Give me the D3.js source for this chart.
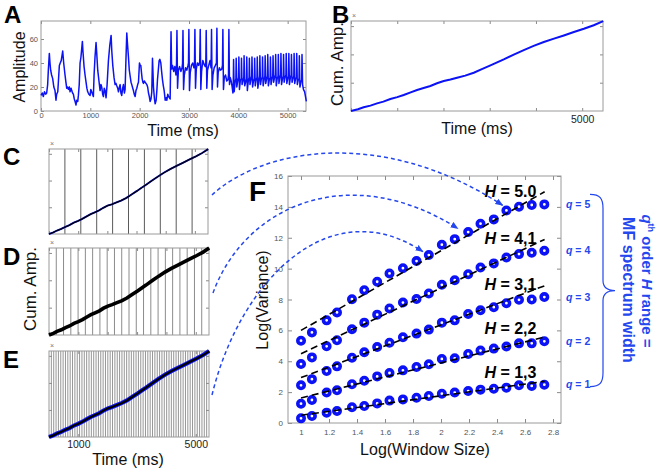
<!DOCTYPE html>
<html>
<head>
<meta charset="utf-8">
<script src="https://cdn.jsdelivr.net/npm/d3@7"></script>
<style>
body { margin: 0; background: #fff; }
svg { display: block; font-family: "Liberation Sans", Arial, sans-serif; }
</style>
</head>
<body>
<svg id="fig" width="660" height="471"></svg>
<script>
// panel A: raw amplitude trace [time ms, amplitude]
var signal = [
	[0,13],[25,15],[47,12],[70,16],[95,14],[115,15],[135,22],[150,35],[169,48],[182,40],[196,34],[215,30],[237,27],[260,20],[284,17],[304,9],[318,14],[340,16],[352,24],[372,38],[390,40],[410,42],[440,50],[460,40],[487,30],[505,24],[521,19],[540,20],[555,18],[575,20],[589,16],[610,19],[622,17],[640,15],[656,14],[675,10],[690,8],[710,5],[724,9],[745,8],[758,13],[775,22],[792,40],[810,45],[839,58],[850,50],[873,37],[893,30],[913,24],[930,19],[947,16],[970,14],[995,13],[1010,18],[1028,16],[1045,14],[1062,12],[1076,30],[1095,45],[1116,57],[1130,48],[1150,34],[1175,25],[1198,17],[1215,22],[1231,20],[1250,14],[1265,12],[1282,19],[1299,17],[1319,11],[1340,22],[1367,42],[1395,55],[1421,63],[1435,50],[1455,38],[1480,28],[1502,22],[1520,23],[1536,21],[1555,19],[1570,16],[1590,20],[1604,22],[1620,15],[1637,13],[1655,19],[1671,22],[1690,15],[1705,18],[1720,40],[1739,65],[1755,55],[1773,45],[1790,34],[1807,29],[1825,24],[1840,22],[1860,19],[1874,17],[1890,14],[1908,12],[1925,17],[1942,19],[1960,22],[1976,24],[1996,40],[2010,38],[2023,38],[2037,32],[2050,27],[2065,24],[2077,23],[2095,25],[2111,24],[2128,23],[2145,22],[2162,20],[2179,15],[2196,12],[2212,8],[2230,10],[2246,16],[2260,44],[2280,20],[2300,10],[2314,6],[2334,9],[2350,18],[2361,26],[2380,35],[2395,42],[2410,43],[2429,40],[2445,33],[2463,26],[2480,21],[2497,17],[2510,12],[2517,9],[2535,11],[2551,9],[2570,14],[2585,12],[2605,11],[2618,10],
	[2628,40],[2636,66],[2648,35],[2665,38],[2690,33],[2712,37],[2735,30],[2748,40],[2756,67],[2768,19],[2785,34],[2810,37],[2835,33],[2860,36],[2870,40],[2878,67],[2890,18],[2905,30],[2930,36],[2955,34],[2980,38],[2990,40],[2998,68],[3010,17],[3025,32],[3050,38],[3075,40],[3100,36],[3112,40],[3120,68],[3132,19],[3148,35],[3170,40],[3195,38],[3218,41],[3228,68],[3240,18],[3255,33],[3280,42],[3305,39],[3330,37],[3341,40],[3349,67],[3361,19],[3375,34],[3400,38],[3425,42],[3448,36],[3457,68],[3469,18],[3485,30],[3510,36],[3535,38],[3556,40],[3566,69],[3578,20],[3592,32],[3615,36],[3640,34],[3665,35],[3679,38],[3687,68],[3699,18],[3715,28],[3740,30],[3765,25],[3790,26],[3801,30],[3809,68],[3821,22],[3835,28],[3855,25],[3875,20],[3890,15],
	[3898,24],[3904,43],[3916,16],[3935,24],[3951,27],[3957,44],[3969,20],[3988,25],[4005,28],[4011,45],[4023,18],[4042,26],[4058,27],[4064,44],[4076,22],[4095,25],[4111,28],[4117,46],[4129,21],[4148,24],[4165,27],[4171,45],[4183,17],[4202,25],[4218,28],[4224,44],[4236,22],[4255,26],[4271,29],[4277,45],[4289,20],[4308,25],[4325,27],[4331,44],[4343,21],[4362,26],[4378,28],[4384,45],[4396,19],[4415,25],[4431,29],[4437,46],[4449,22],[4468,27],[4485,28],[4491,45],[4503,21],[4522,26],[4538,29],[4544,46],[4556,23],[4575,27],[4591,29],[4597,47],[4609,21],[4628,26],[4645,28],[4651,45],[4663,22],[4682,27],[4698,29],[4704,46],[4716,24],[4735,28],[4751,30],[4757,47],[4769,21],[4788,27],[4805,29],[4811,47],[4823,23],[4842,28],[4858,30],[4864,48],[4876,22],[4895,27],[4911,29],[4917,47],[4929,24],[4948,28],[4965,30],[4971,48],[4983,23],[5002,27],[5018,29],[5024,48],[5036,22],[5055,28],[5071,30],[5077,47],[5089,24],[5108,27],[5125,29],[5131,48],[5143,23],[5162,27],[5178,28],[5184,48],[5196,22],[5215,26],[5231,27],[5237,46],[5249,20],[5268,24],[5285,26],[5291,47],[5303,22],[5320,18],[5345,16],[5379,8]
];

// panels B-E: cumulative amplitude (x10^4)
var cumTime = [0, 150, 274, 420, 563, 700, 851, 1000, 1140, 1290, 1429, 1570, 1717, 1860, 2006, 2150, 2294, 2470, 2655, 2830, 3016, 3160, 3304, 3520, 3737, 3950, 4170, 4390, 4603, 4820, 5036, 5250, 5455];
var cumValue = [0, 0.30, 0.65, 0.95, 1.35, 1.65, 2.12, 2.45, 2.82, 3.30, 3.71, 4.05, 4.41, 4.90, 5.29, 5.55, 5.88, 6.25, 6.76, 7.40, 8.06, 8.60, 9.12, 9.95, 10.76, 11.50, 12.18, 12.78, 13.35, 13.95, 14.53, 15.15, 15.88];
var windowCounts = [10, 22, 68];

// panel F: log variance per q order
var logWindow = [1.0, 1.078, 1.183, 1.257, 1.364, 1.452, 1.544, 1.632, 1.728, 1.825, 1.913, 2.006, 2.098, 2.194, 2.282, 2.377, 2.467, 2.557, 2.648, 2.738];
var q1 = [0.30, 0.45, 0.67, 0.78, 1.02, 1.10, 1.27, 1.45, 1.53, 1.64, 1.75, 1.90, 1.97, 2.07, 2.16, 2.22, 2.29, 2.44, 2.40, 2.48];
var q2 = [1.25, 1.49, 1.97, 2.12, 2.51, 2.74, 3.02, 3.24, 3.41, 3.63, 3.80, 4.15, 4.19, 4.47, 4.69, 4.82, 4.95, 5.16, 5.16, 5.29];
var q3 = [2.44, 2.84, 3.37, 3.67, 4.23, 4.58, 4.92, 5.20, 5.55, 5.79, 6.05, 6.50, 6.65, 7.06, 7.30, 7.50, 7.76, 7.98, 8.00, 8.16];
var q4 = [3.82, 4.25, 4.97, 5.36, 6.07, 6.50, 7.02, 7.42, 7.80, 8.03, 8.39, 8.95, 9.25, 9.64, 10.07, 10.34, 10.72, 10.94, 11.03, 11.16];
var q5 = [5.33, 5.87, 6.65, 7.16, 8.02, 8.60, 9.15, 9.69, 10.03, 10.49, 10.88, 11.55, 11.91, 12.37, 12.91, 13.19, 13.77, 14.01, 14.12, 14.16];
var fitX = [1, 2.74];
var fitStart = [0.5, 1.62, 2.94, 4.49, 6.0];
var fitEnd = [2.7, 5.57, 8.89, 11.89, 14.98];
var hLabels = ['1,3', '2,2', '3,1', '4,1', '5.0'];
var qNames = ['1', '2', '3', '4', '5'];

var BLUE = '#0b12f5';
var ANNO = '#2447ee';
var svg = d3.select('#fig');

function frame(x, y, o) {
	var g = svg.append('g');
	var x0 = x.range()[0], x1 = x.range()[1];
	var y0 = y.range()[0], y1 = y.range()[1];
	var tl = o.tick || 3;
	g.append('g').attr('transform', 'translate(0,' + y0 + ')')
		.call(d3.axisBottom(x).tickValues(o.xTicks).tickSize(-tl).tickPadding(o.xPad || 4).tickFormat(o.xFmt || function () { return ''; }));
	g.append('g').attr('transform', 'translate(0,' + y1 + ')')
		.call(d3.axisTop(x).tickValues(o.xTicks).tickSize(-tl).tickFormat(''));
	g.append('g').attr('transform', 'translate(' + x0 + ',0)')
		.call(d3.axisLeft(y).tickValues(o.yTicks).tickSize(-tl).tickPadding(o.yPad || 4).tickFormat(o.yFmt || function () { return ''; }));
	g.append('g').attr('transform', 'translate(' + x1 + ',0)')
		.call(d3.axisRight(y).tickValues(o.yTicks).tickSize(-tl).tickFormat(''));
	g.selectAll('.domain').remove();
	g.selectAll('.tick line').attr('stroke', '#8a8a8a');
	g.selectAll('text').attr('font-family', null).attr('font-size', o.fs || 7.5).attr('fill', o.fc || '#555');
	g.append('rect').attr('x', x0).attr('y', y1).attr('width', x1 - x0).attr('height', y0 - y1)
		.attr('fill', 'none').attr('stroke', '#9a9a9a').attr('stroke-width', 1);
	return g;
}

function label(txt, x, y, size, rot, anchor) {
	return svg.append('text').attr('transform', 'translate(' + x + ',' + y + ')' + (rot ? ' rotate(' + rot + ')' : ''))
		.attr('text-anchor', anchor || 'middle').attr('font-size', size).attr('fill', '#111').text(txt);
}

function panelLetter(txt, x, y, size) {
	svg.append('text').attr('x', x).attr('y', y).attr('font-size', size || 24)
		.attr('font-weight', 'bold').attr('fill', '#000').text(txt);
}

// ---------- A ----------
var xA = d3.scaleLinear().domain([0, 5372]).range([41, 306]);
var yA = d3.scaleLinear().domain([0, 75]).range([111, 21]);
frame(xA, yA, { xTicks: d3.range(0, 5001, 1000), yTicks: [0, 20, 40, 60], xFmt: d3.format('d'), yFmt: d3.format('d'), xPad: 2, yPad: 3 });
svg.append('path').datum(signal)
	.attr('d', d3.line().x(function (d) { return xA(d[0]); }).y(function (d) { return yA(d[1]); }))
	.attr('fill', 'none').attr('stroke', BLUE).attr('stroke-width', 1.5).attr('stroke-linejoin', 'round');
label('Amplitude', 25, 67, 16, -90);
label('Time (ms)', 183, 136, 16);
panelLetter('A', 4, 23);

// ---------- B-E cumulative ----------
var cum = cumTime.map(function (t, i) { return [t, cumValue[i]]; });
var yCumTicks = [5, 10, 15];

var xB = d3.scaleLinear().domain([0, 5450]).range([351, 603]);
var yB = d3.scaleLinear().domain([0, 15.9]).range([111, 21]);
frame(xB, yB, { xTicks: d3.range(0, 5001, 1000), yTicks: yCumTicks, xFmt: function (d) { return d === 5000 ? '5000' : ''; }, fs: 10.5, fc: '#222', xPad: 5 });
svg.append('path').datum(cum)
	.attr('d', d3.line().x(function (d) { return xB(d[0]); }).y(function (d) { return yB(d[1]); }))
	.attr('fill', 'none').attr('stroke', BLUE).attr('stroke-width', 2);
svg.append('text').attr('x', xB.range()[0] + 1).attr('y', 18).attr('font-size', 7).attr('fill', '#777').text('×');
label('Cum. Amp.', 343, 64, 17, -90);
label('Time (ms)', 477, 134, 16);
panelLetter('B', 332, 23);

var boxes = [
	{ name: 'C', top: 149, bottom: 234, x0: 49, x1: 208, grid: '#5a5a5a', under: 1.9, over: 1.3, letterY: 165 },
	{ name: 'D', top: 248, bottom: 335, x0: 49, x1: 209, grid: '#8c8c8c', under: 0, over: 3.6, letterY: 265 },
	{ name: 'E', top: 351, bottom: 437, x0: 49, x1: 209, grid: '#8a8a8a', under: 4.2, over: 2.2, letterY: 368 }
];

boxes.forEach(function (b, k) {
	var x = d3.scaleLinear().domain([0, 5450]).range([b.x0, b.x1]);
	var y = d3.scaleLinear().domain([0, 15.9]).range([b.bottom, b.top]);
	var n = windowCounts[k];
	var edges = d3.range(1, n).map(function (i) { return i * 5450 / n; });
	svg.append('g').selectAll('line').data(edges).join('line')
		.attr('x1', function (d) { return x(d); }).attr('x2', function (d) { return x(d); })
		.attr('y1', b.top).attr('y2', b.bottom)
		.attr('stroke', b.grid).attr('stroke-width', k === 2 ? 0.9 : 1);
	var opts = { xTicks: d3.range(0, 5001, 1000), yTicks: yCumTicks };
	if (b.name === 'E') {
		opts.xTicks = [1000, 5000];
		opts.xFmt = d3.format('d');
		opts.fs = 10.5;
		opts.fc = '#222';
		opts.xPad = 4;
	}
	frame(x, y, opts);
	var line = d3.line().x(function (d) { return x(d[0]); }).y(function (d) { return y(d[1]); });
	if (b.under > 0) {
		svg.append('path').datum(cum).attr('d', line).attr('fill', 'none').attr('stroke', BLUE).attr('stroke-width', b.under);
	}
	svg.append('path').datum(cum).attr('d', line).attr('fill', 'none').attr('stroke', '#000').attr('stroke-width', b.over);
	svg.append('text').attr('x', b.x0 + 1).attr('y', b.top - 3).attr('font-size', 7).attr('fill', '#777').text('×');
	panelLetter(b.name, 3, b.letterY);
});
label('Cum. Amp.', 36, 289, 17, -90);
label('Time (ms)', 128, 465, 16);

// ---------- F ----------
var xF = d3.scaleLinear().domain([0.907, 2.857]).range([288, 561]);
var yF = d3.scaleLinear().domain([0, 16]).range([423, 176]);
frame(xF, yF, {
	xTicks: d3.range(1, 2.81, 0.2), yTicks: d3.range(0, 17, 2), tick: 4,
	xFmt: function (d) { return String(+d.toFixed(1)); }, yFmt: d3.format('d'), fs: 8, fc: '#555', xPad: 6, yPad: 5
});

var series = [q1, q2, q3, q4, q5];
series.forEach(function (s) {
	svg.append('g').selectAll('circle').data(s).join('circle')
		.attr('cx', function (d, i) { return xF(logWindow[i]); })
		.attr('cy', function (d) { return yF(d); })
		.attr('r', 3.2).attr('fill', '#fff').attr('stroke', BLUE).attr('stroke-width', 3.6);
});
series.forEach(function (s, k) {
	svg.append('line')
		.attr('x1', xF(fitX[0])).attr('y1', yF(fitStart[k]))
		.attr('x2', xF(fitX[1])).attr('y2', yF(fitEnd[k]))
		.attr('stroke', '#000').attr('stroke-width', 1.6).attr('stroke-dasharray', '7,4');
	var last = s[s.length - 1];
	var h = svg.append('text').attr('x', xF(2.31)).attr('y', yF(last) - 7)
		.attr('font-size', 16).attr('font-weight', 'bold').attr('fill', '#000');
	h.append('tspan').attr('font-style', 'italic').text('H');
	h.append('tspan').text(' = ' + hLabels[k]);
	var q = svg.append('text').attr('x', xF.range()[1] + 5).attr('y', yF(last) + 3.5)
		.attr('font-size', 10.5).attr('font-weight', 'bold').attr('fill', ANNO);
	q.append('tspan').attr('font-style', 'italic').text('q');
	q.append('tspan').text(' = ' + qNames[k]);
});
label('Log(Variance)', 268, 300, 16, -90);
label('Log(Window Size)', 425, 455, 16);
panelLetter('F', 249, 201, 28);

// brace spanning q = 1..5
var bTop = yF(q5[q5.length - 1]) - 10, bBot = yF(q1[q1.length - 1]) + 2, bMid = (bTop + bBot) / 2;
var bx = 590;
svg.append('path')
	.attr('d', 'M' + bx + ',' + bTop + ' C' + (bx + 10) + ',' + bTop + ' ' + (bx + 13) + ',' + (bTop + 4) + ' ' + (bx + 13) + ',' + (bTop + 14) +
		' L' + (bx + 13) + ',' + (bMid - 10) + ' C' + (bx + 13) + ',' + (bMid - 3) + ' ' + (bx + 18) + ',' + bMid + ' ' + (bx + 25) + ',' + bMid +
		' C' + (bx + 18) + ',' + bMid + ' ' + (bx + 13) + ',' + (bMid + 3) + ' ' + (bx + 13) + ',' + (bMid + 10) +
		' L' + (bx + 13) + ',' + (bBot - 14) + ' C' + (bx + 13) + ',' + (bBot - 4) + ' ' + (bx + 10) + ',' + bBot + ' ' + bx + ',' + bBot)
	.attr('fill', 'none').attr('stroke', ANNO).attr('stroke-width', 1.2);

var t1 = svg.append('text').attr('transform', 'translate(642,281) rotate(90)')
	.attr('text-anchor', 'middle').attr('font-size', 15).attr('font-weight', 'bold').attr('fill', ANNO);
t1.append('tspan').attr('font-style', 'italic').text('q');
t1.append('tspan').attr('font-size', 9).attr('dy', -6).text('th');
t1.append('tspan').attr('dy', 6).text(' order ');
t1.append('tspan').attr('font-style', 'italic').text('H');
t1.append('tspan').text(' range =');
svg.append('text').attr('transform', 'translate(623,290) rotate(90)')
	.attr('text-anchor', 'middle').attr('font-size', 16).attr('font-weight', 'bold').attr('fill', ANNO)
	.text('MF spectrum width');

// dashed arrows from C, D, E into F
svg.append('defs').append('marker').attr('id', 'ah')
	.attr('viewBox', '0 0 10 10').attr('refX', 9).attr('refY', 5)
	.attr('markerWidth', 8).attr('markerHeight', 8).attr('markerUnits', 'userSpaceOnUse').attr('orient', 'auto')
	.append('path').attr('d', 'M0,1 L10,5 L0,9 Z').attr('fill', ANNO);

var arrows = [
	{ from: [212, 195], c1: [260, 150], c2: [380, 125], to: [xF(2.44), yF(14.1)] },
	{ from: [213, 293], c1: [245, 205], c2: [350, 160], to: [xF(2.12), yF(12.6)] },
	{ from: [212, 395], c1: [240, 280], c2: [330, 190], to: [xF(1.87), yF(11.1)] }
];
arrows.forEach(function (a) {
	svg.append('path')
		.attr('d', 'M' + a.from + ' C' + a.c1 + ' ' + a.c2 + ' ' + a.to)
		.attr('fill', 'none').attr('stroke', ANNO).attr('stroke-width', 1.5)
		.attr('stroke-dasharray', '4,3').attr('marker-end', 'url(#ah)');
});
</script>
</body>
</html>
